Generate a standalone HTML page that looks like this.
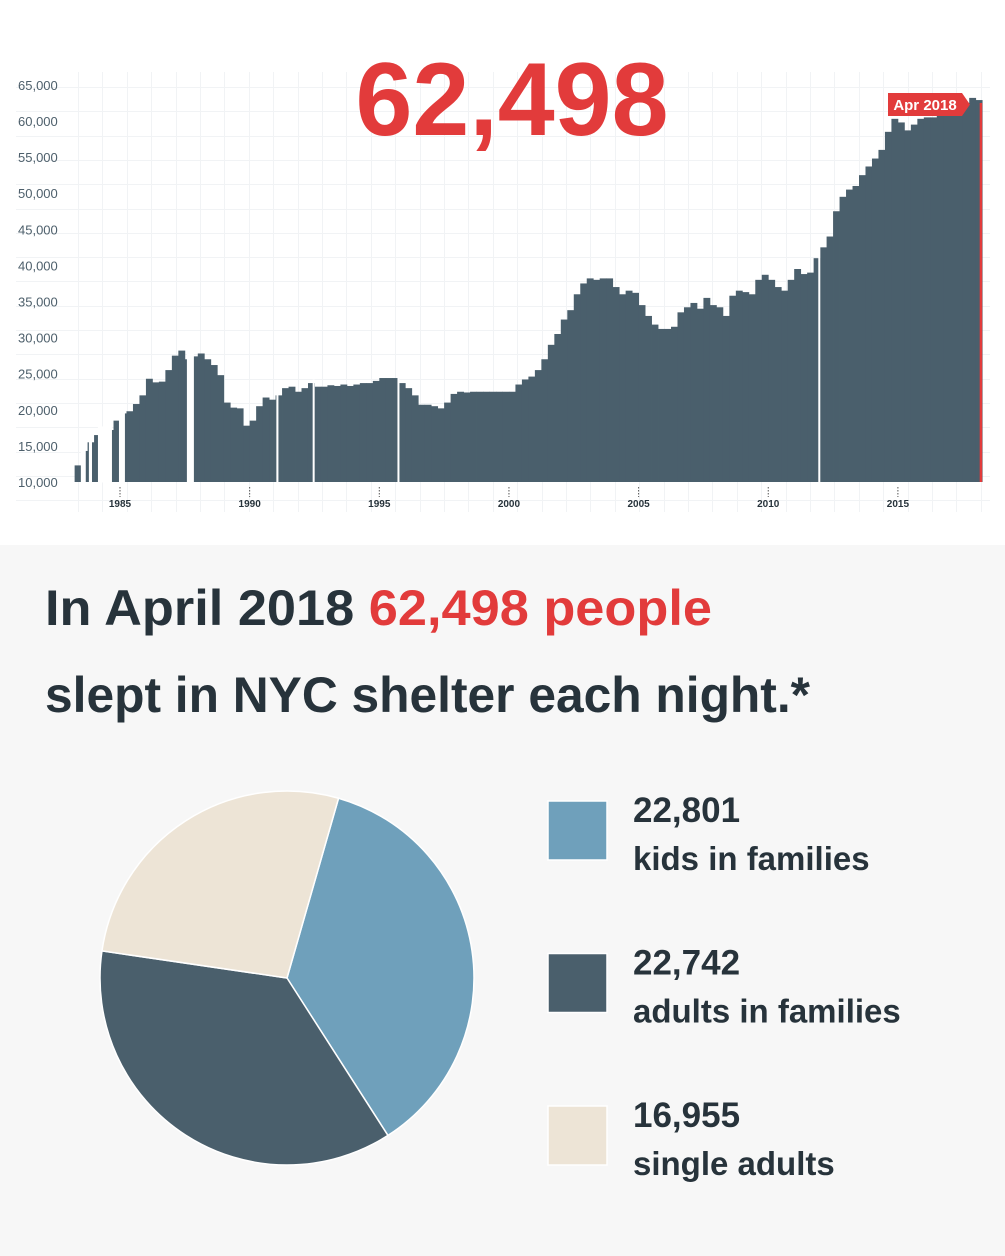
<!DOCTYPE html>
<html><head><meta charset="utf-8"><style>
html,body{margin:0;padding:0;background:#fff;}
svg{display:block;}
text{font-family:"Liberation Sans",sans-serif;}
</style></head>
<body>
<svg id="page" width="1005" height="1256" viewBox="0 0 1005 1256" xmlns="http://www.w3.org/2000/svg">
  <rect x="0" y="0" width="1005" height="545" fill="#ffffff"/>
  <rect x="0" y="545" width="1005" height="711" fill="#f7f7f7"/>
  <g id="grid"></g>
  <g id="yaxis"></g>
  <g id="xaxis"></g>
  <g id="bars"></g>
  <g id="gaps"></g>
  <g id="current"></g>
  <text x="512" y="135" text-anchor="middle" font-size="104" font-weight="bold" fill="#e23b3b" textLength="313" lengthAdjust="spacingAndGlyphs">62,498</text>

  <text x="45" y="625" font-size="50" font-weight="bold" fill="#27333b" textLength="667" lengthAdjust="spacingAndGlyphs">In April 2018 <tspan fill="#e23b3b">62,498 people</tspan></text>
  <text x="45" y="712" font-size="50" font-weight="bold" fill="#27333b" textLength="765" lengthAdjust="spacingAndGlyphs">slept in NYC shelter each night.*</text>

  <g id="pie"></g>
  <g id="legend"></g>
</svg>
<script>
// ---- bar chart data (quarterly, starting 1983.25) ----
const startYear = 1983.25;
const quarterValues = [
 12300,14300,15500,16500, // 1983.25..1984.0
 16800,17200,18500,19500, // 1984.25..1985.0
 19800,20800,22000,24300, // 1985.25..1986.0
 23800,23900,25500,27500, // 1986.25..1987.0
 28200,27000,27400,27800, // 1987.25..1988.0
 27000,26200,24800,21000, // 1988.25..1989.0
 20300,20200,17800,18500, // 1989.25..1990.0
 20500,21700,21400,22000, // 1990.25..1991.0
 23000,23200,22500,23000, // 1991.25..1992.0
 23700,23200,23200,23400, // 1992.25..1993.0
 23300,23500,23300,23500, // 1993.25..1994.0
 23700,23700,24000,24400, // 1994.25..1995.0
 24400,24400,23700,23000, // 1995.25..1996.0
 22000,20700,20700,20500, // 1996.25..1997.0
 20200,21000,22200,22500, // 1997.25..1998.0
 22400,22500,22500,22500, // 1998.25..1999.0
 22500,22500,22500,22500, // 1999.25..2000.0
 23500,24200,24600,25500, // 2000.25..2001.0
 27000,29000,30500,32500, // 2001.25..2002.0
 33800,36000,37500,38200, // 2002.25..2003.0
 38000,38200,38200,37000, // 2003.25..2004.0
 36000,36500,36200,34500, // 2004.25..2005.0
 33000,31800,31200,31200, // 2005.25..2006.0
 31500,33500,34200,34800, // 2006.25..2007.0
 34000,35500,34500,34200, // 2007.25..2008.0
 33000,35800,36500,36300, // 2008.25..2009.0
 36000,38000,38700,38000, // 2009.25..2010.0
 37000,36500,38000,39500, // 2010.25..2011.0
 38800,39000,41000,42500, // 2011.25..2012.0
 44000,47500,49500,50500, // 2012.25..2013.0
 51000,52500,53700,54800, // 2013.25..2014.0
 56000,58500,60300,59800, // 2014.25..2015.0
 58700,59500,60300,60500, // 2015.25..2016.0
 60500,60800,61200,61500, // 2016.25..2017.0
 62000,62500,63200,62900  // 2017.25..2018.0
];
const gapStarts = [1983.49,1983.80,1984.15,1984.96,1987.58,1991.03,1992.43,1995.70,2011.93];
const gapEnds   = [1983.68,1983.92,1984.69,1985.19,1987.85,1991.11,1992.50,1995.77,2012.00];
const currentYear = 2018.25;
const currentValue = 62498;
const yTicks = [10000,15000,20000,25000,30000,35000,40000,45000,50000,55000,60000,65000];
const yTickLabels = ["10,000","15,000","20,000","25,000","30,000","35,000","40,000","45,000","50,000","55,000","60,000","65,000"];
const xTicks = [1985,1990,1995,2000,2005,2010,2015];

// ---- pie data ----
const pieLabels = ["kids in families","adults in families","single adults"];
const pieValues = [22801,22742,16955];
const pieValueLabels = ["22,801","22,742","16,955"];
const pieColors = ["#6fa0bb","#4a5f6c","#ede4d6"];

const NS = "http://www.w3.org/2000/svg";
function mk(tag, attrs, parent){
  const e = document.createElementNS(NS, tag);
  for (const k in attrs) e.setAttribute(k, attrs[k]);
  parent.appendChild(e);
  return e;
}
const xs = yr => 120 + (yr - 1985) * 25.93;
const ys = v => 482 - (v - 10000) * 0.00722;
const baseline = ys(10000);

// grid
const grid = document.getElementById('grid');
for (let i = 0; i < 38; i++) {
  const x = Math.round(78 + i * 24.4) + 0.5;
  if (x > 992) break;
  const l = mk('line', {x1:x, x2:x, y1:72, y2:512, stroke:'#f1f3f5', 'stroke-width':1}, grid);
  
  
}
for (let i = 0; i < 19; i++) {
  const y = Math.round(87 + i * 24.3) + 0.5;
  if (y > 514) break;
  const l = mk('line', {x1:16, x2:990, y1:y, y2:y, stroke:'#f1f3f5', 'stroke-width':1}, grid);
  
  
}

// y axis
const yaxis = document.getElementById('yaxis');
yTicks.forEach((v, i) => {
  const t = mk('text', {x:18, y:ys(v)+5, 'font-size':13, fill:'#4d5f6b'}, yaxis);
  t.textContent = yTickLabels[i];
  
  
});

// x axis
const xaxis = document.getElementById('xaxis');
xTicks.forEach(yr => {
  const x = xs(yr);
  const tk = mk('line', {x1:x, x2:x, y1:487, y2:497, stroke:'#555', 'stroke-width':1, 'stroke-dasharray':'1.5,1.5'}, xaxis);
  
  
  const t = mk('text', {x:x, y:507, 'font-size':10, 'font-weight':'bold', fill:'#27333b', 'text-anchor':'middle'}, xaxis);
  t.textContent = String(yr);
  
  
});

// bars
const bars = document.getElementById('bars');
quarterValues.forEach((v, i) => {
  if (v == null) return;
  const y0 = startYear + i * 0.25;
  const x0 = xs(y0), x1 = xs(y0 + 0.25);
  const top = ys(v);
  const r = mk('rect', {x:x0, y:top, width:(x1 - x0) + 0.4, height:baseline - top, fill:'#4a5f6c'}, bars);
  
  
});

// gaps (missing data) - only cover the bar area
const gaps = document.getElementById('gaps');
const qVal = yr => {
  const i = Math.max(0, Math.min(quarterValues.length - 1, Math.floor((yr - startYear) / 0.25)));
  return quarterValues[i] || 10000;
};
gapStarts.forEach((s, i) => {
  const x0 = xs(s), x1 = xs(gapEnds[i]);
  const topV = Math.max(qVal(s), qVal(gapEnds[i]), qVal((s + gapEnds[i]) / 2)) + 500;
  const top = ys(topV);
  const r = mk('rect', {x:x0, y:top, width:Math.max(2, x1 - x0), height:baseline - top + 0.5, fill:'#ffffff'}, gaps);
  
  
});

// current marker
const cur = document.getElementById('current');
const cx = xs(currentYear);
const cb = mk('rect', {x:cx - 2.5, y:ys(currentValue), width:2.5, height:baseline - ys(currentValue), fill:'#e23b3b'}, cur);


const flag = mk('polygon', {points:'888,93 962,93 970,104.5 962,116 888,116', fill:'#e23b3b'}, cur);


const ft = mk('text', {x:925, y:110, 'font-size':15, 'font-weight':'bold', fill:'#ffffff', 'text-anchor':'middle'}, cur);
ft.textContent = 'Apr 2018';



// pie
const pie = document.getElementById('pie');
const PCX = 287, PCY = 978, PR = 187;
const total = pieValues.reduce((a, b) => a + b, 0);
let ang = 16;
const pt = a => [PCX + PR * Math.sin(a * Math.PI / 180), PCY - PR * Math.cos(a * Math.PI / 180)];
pieValues.forEach((v, i) => {
  const sweep = v / total * 360;
  const [x0, y0] = pt(ang), [x1, y1] = pt(ang + sweep);
  const large = sweep > 180 ? 1 : 0;
  const p = mk('path', {d:`M${PCX},${PCY} L${x0},${y0} A${PR},${PR} 0 ${large} 1 ${x1},${y1} Z`, fill:pieColors[i], stroke:'#ffffff', 'stroke-width':1.5}, pie);
  
  
  ang += sweep;
});

// legend
const legend = document.getElementById('legend');
pieLabels.forEach((lab, i) => {
  const top = 801 + i * 152.5;
  const sw = mk('rect', {x:548, y:top, width:59, height:59, fill:pieColors[i], stroke:'#ffffff', 'stroke-width':1.5}, legend);
  
  
  const n = mk('text', {x:633, y:top + 21, 'font-size':35, 'font-weight':'bold', fill:'#27333b'}, legend);
  n.textContent = pieValueLabels[i];
  
  
  const t = mk('text', {x:633, y:top + 69, 'font-size':33, 'font-weight':'bold', fill:'#27333b'}, legend);
  t.textContent = lab;
  
  
});
</script>
</body></html>
